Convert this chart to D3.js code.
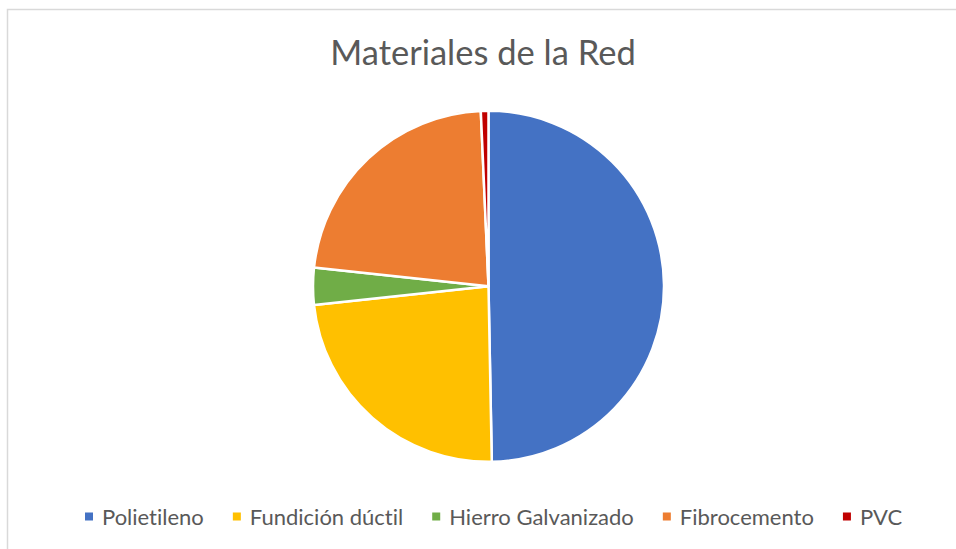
<!DOCTYPE html>
<html><head><meta charset="utf-8">
<script src="https://cdn.jsdelivr.net/npm/d3@7"></script>
<style>body{margin:0;background:#fff}svg{display:block}text{font-variant-ligatures:none;font-feature-settings:"liga" 0}</style>
</head><body>
<svg id="chart" width="956" height="549"></svg>
<script>
const categories = ["Polietileno", "Fundición dúctil", "Hierro Galvanizado", "Fibrocemento", "PVC"];
const values = [49.7, 23.6, 3.4, 22.6, 0.7];
const colors = ["#4472C4", "#FFC000", "#70AD47", "#ED7D31", "#C00000"];
const title = "Materiales de la Red";

const svg = d3.select("#chart");
const font = "Lato, 'Open Sans', sans-serif";

svg.append("rect").attr("x", 7.5).attr("y", 9.5).attr("width", 960).attr("height", 560)
  .attr("fill", "#fff").attr("stroke", "#D9D9D9").attr("stroke-width", 1.5);

svg.append("text").attr("x", 483).attr("y", 65).attr("text-anchor", "middle")
  .attr("font-family", font).attr("font-size", 34.5).attr("fill", "#595959").text(title);

const cx = 488.5, cy = 286.3, r = 175.5;
const pie = d3.pie().sort(null).value(d => d)(values);
const arc = d3.arc().innerRadius(0).outerRadius(r);
svg.append("g").attr("transform", `translate(${cx},${cy})`)
  .selectAll("path").data(pie).join("path")
  .attr("d", arc).attr("fill", (d, i) => colors[i])
  .attr("stroke", "#fff").attr("stroke-width", 2.5).attr("stroke-linejoin", "round");

// legend
const legend = svg.append("g");
const items = legend.selectAll("g").data(categories).join("g");
items.append("rect").attr("width", 8).attr("height", 8).attr("y", -12.5)
  .attr("fill", (d, i) => colors[i]);
items.append("text").attr("x", 17).attr("font-family", font).attr("font-size", 22)
  .attr("fill", "#595959").text(d => d);
const widths = items.nodes().map(n => n.getBBox().width);
const gap = 29;
let x = 85;
items.attr("transform", (d, i) => {
  const t = `translate(${x},525)`;
  x += widths[i] + gap;
  return t;
});
</script>
</body></html>
